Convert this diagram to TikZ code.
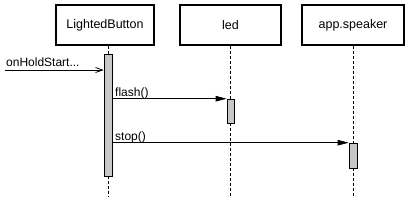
\documentclass[tikz,border=0pt]{standalone}
\usepackage{fontspec}
\setmainfont{Liberation Sans}
\usetikzlibrary{arrows.meta}
\begin{document}
\begin{tikzpicture}[x=1pt,y=-1pt,
  objbox/.style={draw,line width=1.6pt,minimum width=98pt,minimum height=40pt,inner sep=0pt,font=\fontsize{12.5}{14}\selectfont},
  actbar/.style={draw,fill=black!22,line width=0.6pt},
  lifeline/.style={dashed,dash pattern=on 3pt off 2pt,line width=0.6pt},
  msg/.style={line width=0.8pt,-{Triangle[length=11pt,width=5.5pt]}},
  amsg/.style={line width=0.8pt,-{Straight Barb[length=7pt,width=5pt]}},
  lbl/.style={font=\fontsize{12}{14}\selectfont,inner sep=0pt,anchor=base west}]
\useasboundingbox (0,0) rectangle (413,210);
\node[objbox] (lb) at (105,25) {LightedButton};
\node[objbox,minimum width=101pt] (led) at (230.5,25) {led};
\node[objbox,minimum width=102pt] (spk) at (353,25) {app.speaker};
% activation bars
\node[actbar,minimum width=8pt,minimum height=122pt,inner sep=0pt] (a1) at (108,115) {};
\node[actbar,minimum width=7pt,minimum height=24pt,inner sep=0pt] (a2) at (230.5,111) {};
\node[actbar,minimum width=8pt,minimum height=25pt,inner sep=0pt] (a3) at (353,155.5) {};
% lifelines
\coordinate (e1) at (108,197);
\coordinate (e2) at (230.5,197);
\coordinate (e3) at (353,197);
\draw[lifeline] (lb.south -| a1.north) -- (a1.north);
\draw[lifeline] (a1.south) -- (e1);
\draw[lifeline] (led.south) -- (a2.north);
\draw[lifeline] (a2.south) -- (e2);
\draw[lifeline] (spk.south) -- (a3.north);
\draw[lifeline] (a3.south) -- (e3);
% messages
\coordinate (s0) at (5,70);
\draw[amsg] (s0) -- (s0 -| a1.west);
\node[lbl] (l0) at (6,66) {onHoldStart...};
\draw[msg] (a1.east |- a2.north) -- (a2.north west);
\node[lbl] (l1) at (115,96) {flash()};
\draw[msg] (a1.east |- a3.north) -- (a3.north west);
\node[lbl] (l2) at (115,140) {stop()};
\end{tikzpicture}
\end{document}
